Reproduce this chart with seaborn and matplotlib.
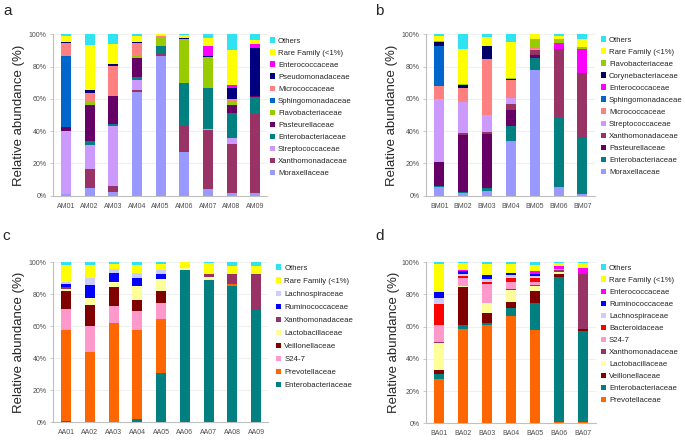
import matplotlib
matplotlib.use("Agg")
import matplotlib.pyplot as plt
from matplotlib.patches import Patch
import numpy as np
import pandas as pd
import seaborn as sns

# ---- data (percent, stacked bottom -> top) ----
am_samples = ["AM01", "AM02", "AM03", "AM04", "AM05", "AM06", "AM07", "AM08", "AM09"]
am_values = {
    "Moraxellaceae":      [1, 5, 2, 64, 86.5, 27, 4, 1.5, 1.5],
    "Xanthomonadaceae":   [0, 11.5, 4, 1.5, 1.5, 16, 37, 30.5, 49],
    "Streptococcaceae":   [39, 15, 37, 6.5, 0, 0, 0.5, 4, 0],
    "Enterobacteriaceae": [0, 2.5, 1.5, 1.5, 4.5, 27, 25.5, 15, 10.5],
    "Pasteurellaceae":    [2.5, 22.5, 17.5, 12, 0.5, 0, 0, 5, 1],
    "Flavobacteriaceae":  [0, 1.5, 0, 1, 5.5, 27, 19, 2, 0],
    "Sphingomonadaceae":  [44, 0, 0, 0, 0, 0, 0, 0, 0],
    "Micrococcaceae":     [8, 5.5, 18.5, 8, 0.5, 0, 0, 2, 0],
    "Pseudomonadaceae":   [0.5, 2, 1, 0.5, 0, 1, 0.5, 6.5, 29.5],
    "Enterococcaceae":    [0, 0, 0, 0, 0, 0, 6, 2, 2.5],
    "Rare Family (<1%)":  [4, 28, 12.5, 4, 1, 1.5, 5.5, 21.5, 2.5],
    "Others":             [1, 6.5, 6, 1, 0, 0.5, 2, 10, 3.5],
}

bm_samples = ["BM01", "BM02", "BM03", "BM04", "BM05", "BM06", "BM07"]
bm_values = {
    "Moraxellaceae":      [5.5, 1.5, 3, 34, 78, 5.5, 1],
    "Enterobacteriaceae": [0.5, 0.5, 2, 9.5, 7.5, 43.5, 34.5],
    "Pasteurellaceae":    [15, 35.5, 33.5, 9.5, 1.5, 0, 0],
    "Xanthomonadaceae":   [0, 1.5, 1, 4, 3.5, 42, 40.5],
    "Streptococcaceae":   [39, 19, 10.5, 3.5, 0.5, 0, 0],
    "Micrococcaceae":     [8, 9, 34.5, 11, 1, 0, 0],
    "Sphingomonadaceae":  [24.5, 0, 0, 0, 0, 0, 0],
    "Enterococcaceae":    [0, 0, 0, 0, 0, 3.5, 15],
    "Corynebacteriaceae": [3, 1.5, 8, 1, 0, 0, 0],
    "Flavobacteriaceae":  [0.5, 0.5, 0.5, 0.5, 5, 2.5, 1],
    "Rare Family (<1%)":  [3, 22, 5.5, 22, 3, 2, 5],
    "Others":             [1, 9, 1.5, 5, 0, 1, 3],
}

aa_samples = ["AA01", "AA02", "AA03", "AA04", "AA05", "AA06", "AA07", "AA08", "AA09"]
aa_values = {
    "Enterobacteriaceae": [1, 0.5, 0, 2, 31, 95, 89, 85.5, 70],
    "Prevotellaceae":     [56.5, 43.5, 62, 55.5, 33.5, 0, 0, 1, 0],
    "S24-7":              [13.5, 16, 11, 12, 10, 0, 0, 0, 0],
    "Veillonellaceae":    [11, 13.5, 11.5, 7, 7.5, 0.5, 0, 0, 0],
    "Lactobacillaceae":   [1.5, 4.5, 3.5, 8.5, 7.5, 1, 2, 0, 0],
    "Xanthomonadaceae":   [1, 0, 0, 0, 0, 0, 1.5, 6.5, 22.5],
    "Ruminococcaceae":    [2, 8, 5.5, 5, 3.5, 0, 0, 0, 0],
    "Lachnospiraceae":    [1.5, 4.5, 2.5, 3.5, 2, 0, 0, 0, 0],
    "Rare Family (<1%)":  [10.5, 8, 3, 5, 4, 3.5, 7, 5, 5],
    "Others":             [1.5, 1.5, 1, 1.5, 1, 0, 0.5, 2, 2.5],
}

ba_samples = ["BA01", "BA02", "BA03", "BA04", "BA05", "BA06", "BA07"]
ba_values = {
    "Prevotellaceae":     [27.5, 58.5, 61, 66.5, 58, 0.5, 0.5],
    "Enterobacteriaceae": [3, 2.5, 1, 5, 16.5, 90.5, 57],
    "Veillonellaceae":    [2.5, 23.5, 6.5, 4, 7.5, 1.5, 1],
    "Lactobacillaceae":   [17, 0.5, 6, 7.5, 3.5, 1.5, 0],
    "Xanthomonadaceae":   [0.5, 0.5, 0.5, 0.5, 0.5, 1.5, 34],
    "S24-7":              [10.5, 4.5, 11.5, 4.5, 2, 0.5, 0.5],
    "Bacteroidaceae":     [13, 1.5, 1.5, 2.5, 2, 0, 0],
    "Lachnospiraceae":    [4, 1.5, 1.5, 1.5, 1.5, 0, 0],
    "Ruminococcaceae":    [3.5, 1.5, 2.5, 1.5, 1.5, 0, 0],
    "Enterococcaceae":    [0, 0.5, 0, 0, 1.5, 1.5, 3.5],
    "Rare Family (<1%)":  [17.5, 4.5, 7, 5.5, 4, 2, 3],
    "Others":             [1, 1, 1, 1, 1.5, 0.5, 0.5],
}

family_colors = {
    "Others": "#2FE3F2",
    "Rare Family (<1%)": "#FFFF00",
    "Enterococcaceae": "#FF00FF",
    "Pseudomonadaceae": "#000080",
    "Corynebacteriaceae": "#000066",
    "Micrococcaceae": "#FF8080",
    "Sphingomonadaceae": "#0066CC",
    "Flavobacteriaceae": "#99CC00",
    "Pasteurellaceae": "#660066",
    "Enterobacteriaceae": "#008080",
    "Streptococcaceae": "#CC99FF",
    "Xanthomonadaceae": "#993366",
    "Moraxellaceae": "#9999FF",
    "Lachnospiraceae": "#CCCCFF",
    "Ruminococcaceae": "#0000FF",
    "Lactobacillaceae": "#FFFF99",
    "Veillonellaceae": "#800000",
    "S24-7": "#FF99CC",
    "Prevotellaceae": "#FF6600",
    "Bacteroidaceae": "#FF0000",
}


def style():
    sns.set_theme(style="white")
    plt.rcParams["font.family"] = ["Liberation Sans", "DejaVu Sans"]
    plt.rcParams["axes.linewidth"] = 0.8


def draw_panel(fig, rect, samples, values, xlim, ylabel_x, legend_xy, labelspacing):
    ax = fig.add_axes(rect)
    df = pd.DataFrame(values, index=samples)
    cum = df.cumsum(axis=1)
    fams = list(df.columns)
    # draw from the top of the stack downwards so lower layers sit on top
    for fam in reversed(fams):
        sns.barplot(x=samples, y=cum[fam].values, color=family_colors[fam],
                    width=0.42, saturation=1, linewidth=0, errorbar=None,
                    ax=ax, zorder=3)
    ax.set_xlim(*xlim)
    ax.set_ylim(0, 100)
    ax.set_yticks(np.arange(0, 101, 20))
    ax.set_yticklabels([f"{v}%" for v in range(0, 101, 20)])
    ax.set_xticks(range(len(samples)))
    ax.set_xticklabels(samples)
    ax.set_xticks(np.arange(-0.5, len(samples), 1.0), minor=True)
    ax.tick_params(axis="x", which="major", length=0, labelsize=5, pad=5, colors="#4D4D4D")
    ax.tick_params(axis="x", which="minor", length=3, width=0.6, color="#BFBFBF", direction="out")
    ax.tick_params(axis="y", length=2.5, width=0.6, color="#BFBFBF", labelsize=5,
                   labelcolor="#4D4D4D", pad=2, left=True)
    ax.set_xlabel("")
    ax.set_ylabel("Relative abundance (%)", fontsize=9.5)
    ax.yaxis.set_label_coords(ylabel_x, 0.5)
    ax.yaxis.grid(True, color="#EDEDED", lw=0.6, zorder=0)
    ax.set_axisbelow(True)
    for s in ["top", "right"]:
        ax.spines[s].set_visible(False)
    for s in ["left", "bottom"]:
        ax.spines[s].set_color("#BFBFBF")
        ax.spines[s].set_linewidth(0.8)

    handles = [Patch(facecolor=family_colors[f], edgecolor="none") for f in reversed(fams)]
    ax.legend(handles, list(reversed(fams)), loc="upper left",
              bbox_to_anchor=legend_xy, bbox_transform=fig.transFigure,
              frameon=False, fontsize=5.6, handlelength=0.7, handleheight=0.7,
              handletextpad=0.35, labelspacing=labelspacing, borderpad=0,
              borderaxespad=0)
    return ax


style()
fig = plt.figure(figsize=(6.85, 4.40), dpi=100)

draw_panel(fig, [0.0774, 0.5552, 0.3124, 0.3668], am_samples, am_values,
           (-0.55, 8.42), -0.131, (0.394, 0.915), 0.59)
draw_panel(fig, [0.6219, 0.5552, 0.2474, 0.3668], bm_samples, bm_values,
           (-0.56, 6.55), -0.165, (0.877, 0.9175), 0.59)
draw_panel(fig, [0.0774, 0.0402, 0.3139, 0.3636], aa_samples, aa_values,
           (-0.55, 8.47), -0.131, (0.403, 0.399), 0.72)
draw_panel(fig, [0.6219, 0.0380, 0.2477, 0.3659], ba_samples, ba_values,
           (-0.56, 6.53), -0.153, (0.877, 0.399), 0.59)

for letter, x, y in [("a", 3, 15), ("b", 375, 15), ("c", 2, 240), ("d", 375, 240)]:
    fig.text(x / 685, 1 - y / 440, letter, fontsize=11, va="baseline", ha="left")

fig.savefig("out.png", dpi=100)
